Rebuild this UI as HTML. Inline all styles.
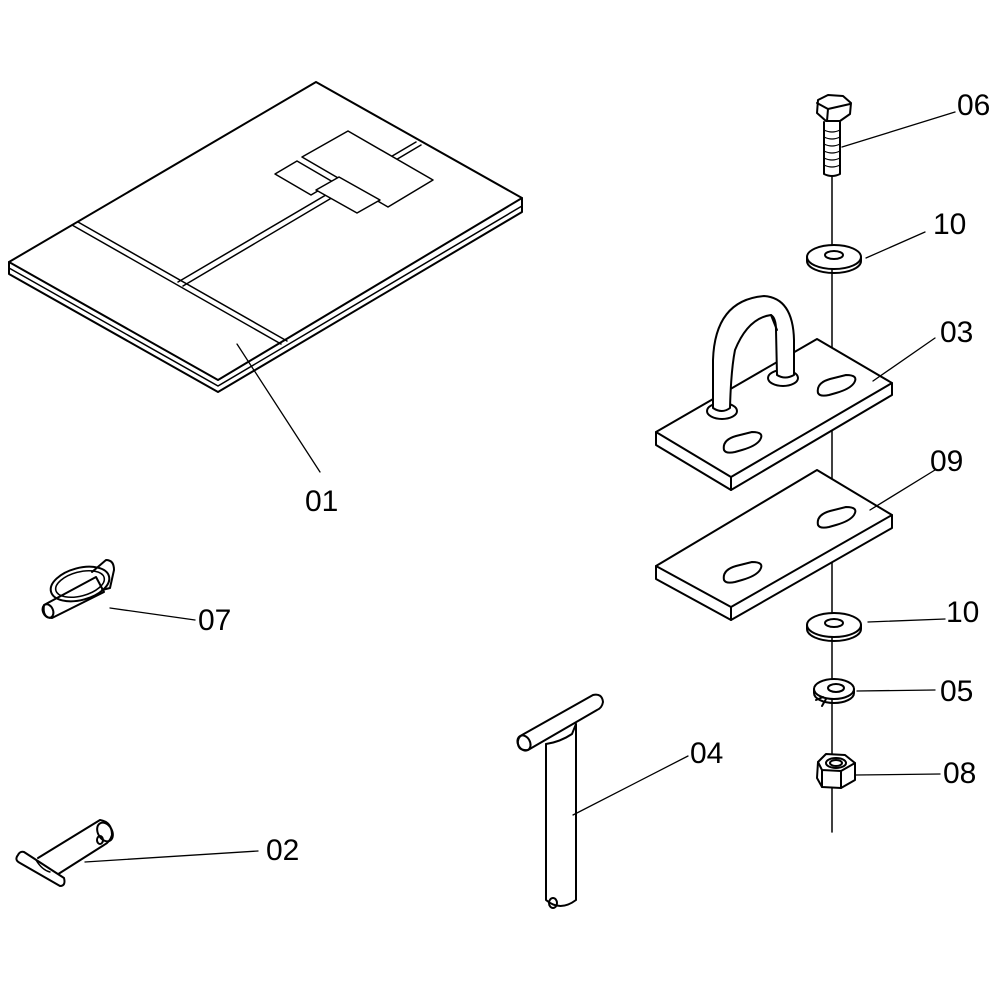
<!DOCTYPE html>
<html><head><meta charset="utf-8"><style>
html,body{margin:0;padding:0;background:#fff}
svg{display:block}
text{font-family:"Liberation Sans",sans-serif;font-size:30px;fill:#000}
</style></head><body>
<svg width="1000" height="1000" viewBox="0 0 1000 1000" xmlns="http://www.w3.org/2000/svg">
<g fill="none" stroke="#000" stroke-width="2" stroke-linejoin="round" stroke-linecap="round">
<!-- Book 01 -->
<path d="M9,262 L9,274 L218,392 L522,212 L522,198" />
<path d="M9,268 L218,386 L522,206" stroke-width="1.5"/>
<path d="M9,262 L316,82 L522,198 L218,380 Z" fill="#fff"/>
<path d="M72,225 L281,344 M78,222 L287,341" stroke-width="1.5"/>
<path d="M178,282 L416,142 M183,286 L421,145" stroke-width="1.5"/>
<path d="M302,157 L348,131 L433,180 L388,207 Z" fill="#fff" stroke-width="1.5"/>
<path d="M275,174 L297,161 L333,182 L311,195 Z" fill="#fff" stroke-width="1.5"/>
<path d="M316,190 L339,177 L380,200 L357,213 Z" fill="#fff" stroke-width="1.5"/>
<line x1="237" y1="344" x2="320" y2="472" stroke-width="1.3"/>

<!-- axis line -->
<line x1="832" y1="175" x2="832" y2="832" stroke-width="1.5"/>

<!-- Bolt 06 -->
<path d="M818,100 L828,95 L843,96 L851,103 L850,114 L840,121 L826,121 L817,113 Z" fill="#fff"/>
<path d="M817,103 L828,109 L850,104 M828,109 L827,121"/>
<path d="M824,122 L824,174 Q832,178 840,174 L840,122" fill="#fff"/>
<path d="M824,130 Q832,134 840,130 M824,137 Q832,141 840,137 M824,144 Q832,148 840,144 M824,151 Q832,155 840,151 M824,158 Q832,162 840,158 M824,165 Q832,169 840,165" stroke-width="1.2"/>
<line x1="842" y1="147" x2="955" y2="112" stroke-width="1.3"/>

<!-- Washer 10 top -->
<ellipse cx="834" cy="257" rx="27" ry="12" fill="#fff"/>
<path d="M807,257 L807,261 A27,12 0 0 0 861,261 L861,257"/>
<ellipse cx="834" cy="255" rx="9" ry="4"/>
<line x1="866" y1="258" x2="925" y2="232" stroke-width="1.3"/>

<!-- Plate 03 -->
<path d="M656,432 L656,445 L731,490 L892,395 L892,383" fill="#fff"/>
<path d="M656,432 L817,339 L892,383 L731,477 Z" fill="#fff"/>
<line x1="731" y1="477" x2="731" y2="490"/>
<path d="M724,446 Q722,436 736,432 L752,428 Q765,428 760,436 Q756,442 742,446 L735,448 Q726,450 724,446 Z" transform="translate(0,4)"/>
<path d="M818,395 Q816,385 830,381 L846,377 Q859,377 854,385 Q850,391 836,395 L829,397 Q820,399 818,395 Z" transform="translate(0,-2)"/>
<!-- U bolt -->
<ellipse cx="722" cy="411" rx="15" ry="8" fill="#fff"/>
<ellipse cx="783" cy="378" rx="15" ry="8" fill="#fff"/>
<path d="M713,408 L713,360 Q715,300 764,296 Q793,298 794,340 L794,375 Q785,380 777,375 L776,330 Q776,318 771,315 Q748,318 735,350 Q731,370 730,408 Q722,414 713,408 Z" fill="#fff"/>
<path d="M771,315 L777,330"/>
<line x1="873" y1="381" x2="935" y2="338" stroke-width="1.3"/>

<!-- Plate 09 -->
<path d="M656,566 L656,579 L731,620 L892,528 L892,515" fill="#fff"/>
<path d="M656,566 L817,470 L892,515 L731,607 Z" fill="#fff"/>
<line x1="731" y1="607" x2="731" y2="620"/>
<path d="M724,580 Q722,570 736,566 L752,562 Q765,562 760,570 Q756,576 742,580 L735,582 Q726,584 724,580 Z"/>
<path d="M818,525 Q816,515 830,511 L846,507 Q859,507 854,515 Q850,521 836,525 L829,527 Q820,529 818,525 Z"/>
<line x1="870" y1="510" x2="935" y2="470" stroke-width="1.3"/>

<!-- Washer 10 bottom -->
<ellipse cx="834" cy="625" rx="27" ry="12" fill="#fff"/>
<path d="M807,625 L807,629 A27,12 0 0 0 861,629 L861,625"/>
<ellipse cx="834" cy="623" rx="9" ry="4"/>
<line x1="868" y1="622" x2="945" y2="619" stroke-width="1.3"/>

<!-- Lock washer 05 -->
<ellipse cx="834" cy="689" rx="20" ry="10" fill="#fff"/>
<path d="M814,689 L814,693 A20,10 0 0 0 854,693 L854,689"/>
<ellipse cx="836" cy="688" rx="8" ry="4"/>
<path d="M823,697 L816,700 M826,699 L822,706"/>
<line x1="857" y1="691" x2="935" y2="690" stroke-width="1.3"/>

<!-- Nut 08 -->
<path d="M818,762 L826,754 L845,755 L855,763 L855,780 L841,788 L822,787 L817,778 Z" fill="#fff"/>
<path d="M818,762 L822,770 L841,771 L855,763 M822,770 L822,787 M841,771 L841,788"/>
<ellipse cx="836" cy="763" rx="10" ry="5"/>
<ellipse cx="836" cy="763" rx="6" ry="3"/>
<line x1="856" y1="775" x2="940" y2="774" stroke-width="1.3"/>

<!-- T pin 04 -->
<path d="M522,735 L593,695 Q602,693 603,702 Q602,708 597,710 L528,750 Q519,751 518,744 Q517,738 522,735 Z" fill="#fff"/>
<ellipse cx="524" cy="743" rx="6" ry="8" transform="rotate(-30 524 743)"/>
<path d="M546,744 L546,900 Q560,912 576,900 L576,724" fill="#fff"/>
<path d="M546,744 Q560,742 572,734 L576,724"/>
<ellipse cx="553" cy="903" rx="4" ry="5"/>
<line x1="573" y1="815" x2="688" y2="756" stroke-width="1.3"/>

<!-- 07 lynch pin -->
<path d="M44,605 L96,577 L104,592 L52,618 Q42,618 44,605 Z" fill="#fff"/>
<ellipse cx="48" cy="611" rx="5" ry="7" transform="rotate(-25 48 611)"/>
<ellipse cx="80" cy="584" rx="30" ry="16" transform="rotate(-15 80 584)" stroke-width="2"/>
<ellipse cx="80" cy="584" rx="25" ry="12" transform="rotate(-15 80 584)" stroke-width="1.5"/>
<path d="M92,572 L106,560 Q114,560 114,570 L110,588 L102,590"/>
<line x1="110" y1="608" x2="195" y2="620" stroke-width="1.3"/>

<!-- 02 clevis pin -->
<path d="M38,858 L100,820 Q112,822 112,835 Q110,842 104,845 L52,878" fill="#fff"/>
<ellipse cx="105" cy="832" rx="7" ry="10" transform="rotate(-30 105 832)"/>
<ellipse cx="100" cy="840" rx="3" ry="4"/>
<path d="M18,855 Q14,860 20,863 L60,886 Q66,886 64,878 L24,852 Q20,851 18,855 Z" fill="#fff"/>
<path d="M36,860 Q42,870 50,872" stroke-width="1.5"/>
<line x1="85" y1="862" x2="258" y2="851" stroke-width="1.3"/>
</g>

<text x="305" y="511">01</text>
<text x="957" y="115">06</text>
<text x="933" y="234">10</text>
<text x="940" y="342">03</text>
<text x="930" y="471">09</text>
<text x="946" y="622">10</text>
<text x="940" y="701">05</text>
<text x="943" y="783">08</text>
<text x="690" y="763">04</text>
<text x="198" y="630">07</text>
<text x="266" y="860">02</text>
</svg>
</body></html>
